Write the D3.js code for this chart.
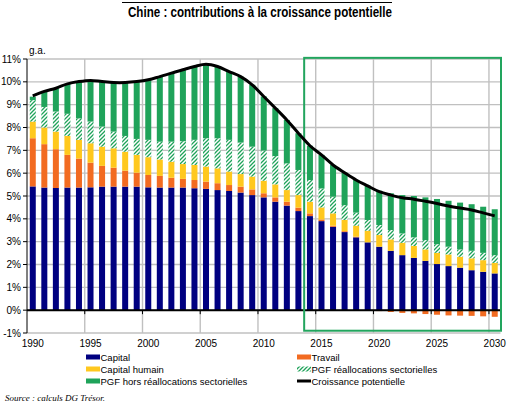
<!DOCTYPE html>
<html><head><meta charset="utf-8">
<script src="https://cdn.jsdelivr.net/npm/d3@7"></script>
<style>body{margin:0;background:#fff} svg{display:block}</style>
</head><body>
<svg id="c" width="509" height="410"></svg>
<script>
const years = [1990,1991,1992,1993,1994,1995,1996,1997,1998,1999,2000,2001,2002,2003,2004,2005,2006,2007,2008,2009,2010,2011,2012,2013,2014,2015,2016,2017,2018,2019,2020,2021,2022,2023,2024,2025,2026,2027,2028,2029,2030];
const capital = [5.42,5.37,5.35,5.37,5.37,5.38,5.41,5.41,5.41,5.41,5.38,5.37,5.37,5.37,5.34,5.31,5.26,5.22,5.15,5.04,4.94,4.75,4.58,4.34,4.12,3.90,3.65,3.42,3.19,2.97,2.78,2.60,2.41,2.29,2.16,2.02,1.93,1.86,1.75,1.68,1.61];
const travail = [2.11,1.90,1.70,1.43,1.27,1.08,0.91,0.83,0.70,0.61,0.54,0.51,0.43,0.38,0.36,0.32,0.30,0.26,0.26,0.25,0.18,0.19,0.17,0.15,0.12,0.07,0.05,0.04,0.03,-0.01,-0.04,-0.08,-0.12,-0.14,-0.17,-0.20,-0.23,-0.24,-0.25,-0.27,-0.29];
const capitalHumain = [0.73,0.73,0.77,0.83,0.82,0.85,0.84,0.85,0.83,0.78,0.78,0.72,0.70,0.65,0.66,0.66,0.65,0.59,0.55,0.56,0.55,0.57,0.51,0.55,0.51,0.53,0.54,0.49,0.48,0.51,0.51,0.50,0.54,0.52,0.50,0.49,0.51,0.48,0.52,0.51,0.46];
const pgfRealloc = [0.94,0.90,0.88,0.97,0.94,0.95,0.88,0.73,0.69,0.70,0.76,0.78,0.88,1.00,1.10,1.24,1.32,1.39,1.38,1.31,1.32,1.24,1.17,1.10,0.95,0.83,0.73,0.65,0.57,0.47,0.44,0.41,0.41,0.38,0.41,0.38,0.34,0.32,0.33,0.32,0.34];
const pgfHors = [0.15,0.68,1.02,1.31,1.61,1.80,1.97,2.15,2.34,2.51,2.63,2.85,3.00,3.13,3.21,3.22,3.14,2.99,2.89,2.71,2.37,2.10,1.90,1.61,1.50,1.47,1.39,1.42,1.43,1.50,1.50,1.61,1.68,1.81,1.87,1.98,2.01,2.05,2.04,2.02,2.01];
const croissance = [9.38,9.58,9.72,9.91,10.01,10.06,10.01,9.97,9.97,10.01,10.09,10.23,10.38,10.53,10.67,10.77,10.67,10.45,10.23,9.87,9.36,8.85,8.33,7.75,7.20,6.80,6.36,6.02,5.70,5.44,5.19,5.04,4.92,4.86,4.77,4.67,4.56,4.47,4.39,4.26,4.13];
const yTicks = [-1,0,1,2,3,4,5,6,7,8,9,10,11];
const xTickLabels = ["1990","1995","2000","2005","2010","2015","2020","2025","2030"];
const seriesNames = ["Capital","Travail","Capital humain","PGF réallocations sectorielles","PGF hors réallocations sectorielles","Croissance potentielle"];
const projectionStart = 2014;

(function(){
const colors = {cap:"#000080", trav:"#f26b21", ch:"#ffc81e", green:"#1fa35a"};
const svg = d3.select("#c");
const font = "'Liberation Sans', Arial, sans-serif";

const defs = svg.append("defs");
const pat = defs.append("pattern").attr("id","hatch").attr("patternUnits","userSpaceOnUse")
  .attr("width",4).attr("height",4);
pat.append("rect").attr("width",4).attr("height",4).attr("fill","#fff");
pat.append("path").attr("d","M-1,1 l2,-2 M0,4 l4,-4 M3,5 l2,-2")
  .attr("stroke",colors.green).attr("stroke-width",1.3);

const pL = 27, pR = 500.5, pT = 59, pB = 333;
const x = d3.scaleBand().domain(years).range([pL,pR]).paddingInner(0.48).paddingOuter(0.24);
const y = d3.scaleLinear().domain([-1,11]).range([pB, pT]);
const step = x.step();
const bandLeft = yr => x(yr) - (step - x.bandwidth())/2;

// gridlines
const g = svg.append("g");
g.selectAll(".hg").data(yTicks).join("line")
  .attr("x1",pL).attr("x2",pR).attr("y1",d=>y(d)).attr("y2",d=>y(d))
  .attr("stroke","#c0c0c0").attr("stroke-width",1.4);
g.selectAll(".vg").data(xTickLabels.slice(1)).join("line")
  .attr("x1",d=>bandLeft(+d)).attr("x2",d=>bandLeft(+d)).attr("y1",pT).attr("y2",pB)
  .attr("stroke","#c0c0c0").attr("stroke-width",1.4);

// stacked bars
const table = years.map((yr,i)=>({year:yr, cap:capital[i], trav:travail[i], ch:capitalHumain[i], pr:pgfRealloc[i], ph:pgfHors[i]}));
const keys = ["cap","trav","ch","pr","ph"];
const fills = {cap:colors.cap, trav:colors.trav, ch:colors.ch, pr:"url(#hatch)", ph:colors.green};
const stack = d3.stack().keys(keys).offset(d3.stackOffsetDiverging)(table);
svg.append("g").selectAll("g").data(stack).join("g").attr("fill",d=>fills[d.key])
  .selectAll("rect").data(d=>d).join("rect")
  .attr("x",d=>x(d.data.year)).attr("width",x.bandwidth())
  .attr("y",d=>y(Math.max(d[0],d[1]))).attr("height",d=>Math.abs(y(d[0])-y(d[1])));

// axes
const ax = svg.append("g");
ax.append("line").attr("x1",pL).attr("x2",pL).attr("y1",pT).attr("y2",pB).attr("stroke","#000").attr("stroke-width",1);
ax.selectAll(".yt").data(yTicks).join("line").attr("x1",pL-4).attr("x2",pL).attr("y1",d=>y(d)).attr("y2",d=>y(d)).attr("stroke","#000");
ax.selectAll(".yl").data(yTicks).join("text").attr("x",21).attr("y",d=>y(d)+3.5).attr("text-anchor","end")
  .attr("font-family",font).attr("font-size",10).attr("fill","#000").text(d=>d+"%");
ax.append("line").attr("x1",pL).attr("x2",pR).attr("y1",y(0)).attr("y2",y(0)).attr("stroke","#000").attr("stroke-width",2);
ax.selectAll(".xt").data(xTickLabels.slice(1)).join("line").attr("x1",d=>bandLeft(+d)).attr("x2",d=>bandLeft(+d))
  .attr("y1",y(0)).attr("y2",y(0)+4).attr("stroke","#000");
ax.selectAll(".xl").data(xTickLabels).join("text").attr("x",d=>x(+d)+x.bandwidth()/2).attr("y",347)
  .attr("text-anchor","middle").attr("font-family",font).attr("font-size",10).text(d=>d);
svg.append("text").attr("x",29).attr("y",54).attr("font-family",font).attr("font-size",10).text("g.a.");

// projection box
svg.append("rect").attr("x",bandLeft(projectionStart)).attr("y",y(11.05))
  .attr("width",pR+0.5-bandLeft(projectionStart)).attr("height",y(-0.9)-y(11.05))
  .attr("fill","none").attr("stroke","#22a55e").attr("stroke-width",2);

// line
const line = d3.line().x((d,i)=>x(years[i])+x.bandwidth()/2).y(d=>y(d)).curve(d3.curveCatmullRom);
svg.append("path").datum(croissance).attr("d",line).attr("fill","none").attr("stroke","#000").attr("stroke-width",3);

// title
svg.append("line").attr("x1",122).attr("x2",392).attr("y1",2.5).attr("y2",2.5).attr("stroke","#000").attr("stroke-width",1);
svg.append("text").attr("x",260).attr("y",17).attr("text-anchor","middle")
  .attr("font-family","'Liberation Sans Narrow','Arial Narrow','Liberation Sans',Arial,sans-serif")
  .attr("font-weight","bold").attr("font-size",14).attr("textLength",264).attr("lengthAdjust","spacingAndGlyphs")
  .text("Chine : contributions à la croissance potentielle");

// legend
const legend = [
  {name:seriesNames[0], fill:colors.cap, col:0, row:0},
  {name:seriesNames[2], fill:colors.ch, col:0, row:1},
  {name:seriesNames[4], fill:colors.green, col:0, row:2},
  {name:seriesNames[1], fill:colors.trav, col:1, row:0},
  {name:seriesNames[3], fill:"url(#hatch)", col:1, row:1},
  {name:seriesNames[5], fill:null, col:1, row:2}
];
const colX = [86, 297];
const lg = svg.append("g").selectAll("g").data(legend).join("g")
  .attr("transform",d=>`translate(${colX[d.col]},${357+d.row*12})`);
lg.filter(d=>d.fill).append("rect").attr("x",0).attr("y",-2.5).attr("width",14).attr("height",5).attr("fill",d=>d.fill);
lg.filter(d=>!d.fill).append("line").attr("x1",0).attr("x2",14).attr("y1",0).attr("y2",0).attr("stroke","#000").attr("stroke-width",3);
lg.append("text").attr("x",14.5).attr("y",3.5).attr("font-family",font).attr("font-size",9.5).text(d=>d.name);

svg.append("text").attr("x",5).attr("y",401).attr("font-family","'Liberation Serif','Times New Roman',serif")
  .attr("font-style","italic").attr("font-size",9).text("Source : calculs DG Trésor.");
})();
</script>
</body></html>
